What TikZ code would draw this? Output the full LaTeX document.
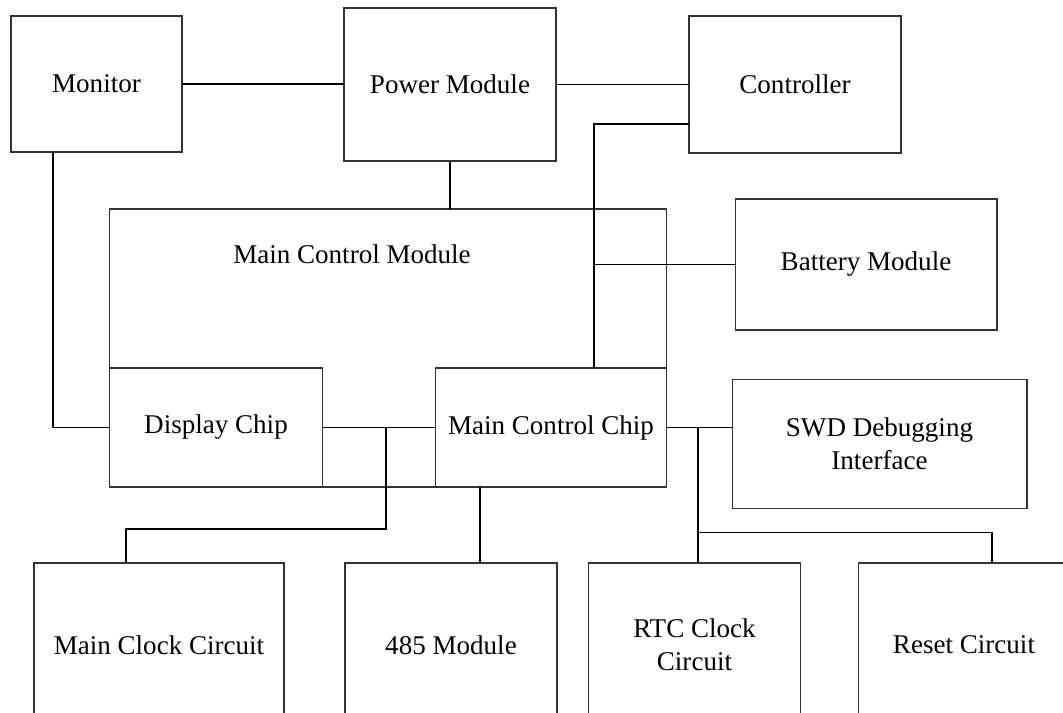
\documentclass[tikz,border=0pt]{standalone}
\usepackage{fontspec}
\setmainfont{Liberation Serif}

\begin{document}
\begin{tikzpicture}[x=0.02cm, y=-0.02cm,
    box/.style={draw=black!80, line width=0.6pt, rectangle, inner sep=0pt, outer sep=0pt,
      align=center, font=\fontsize{15.4}{18.7}\selectfont},
    wire/.style={draw=black, line width=1.1pt},
    lbl/.style={font=\fontsize{15.4}{18.7}\selectfont}]
  \useasboundingbox (0,0) rectangle (1063,713);
  \clip (0,0) rectangle (1063,713);
  % top row
  \node[box, minimum width=3.42cm, minimum height=2.72cm] (monitor) at (96.5,84) {Monitor};
  \node[box, minimum width=4.24cm, minimum height=3.06cm] (power) at (450,84.5) {Power Module};
  \node[box, minimum width=4.24cm, minimum height=2.74cm] (ctrl) at (795,84.5) {Controller};
  % main control module with its two chips
  \node[box, minimum width=11.13cm, minimum height=5.56cm] (mcm) at (388,348) {};
  \node[lbl] (mcmlabel) at (352,254) {Main Control Module};
  \node[box, minimum width=4.25cm, minimum height=2.38cm] (disp) at (216,427.5) {Display Chip};
  \node[box, minimum width=4.62cm, minimum height=2.38cm] (mcc) at (551,427.5) {Main Control Chip};
  % right side
  \node[box, minimum width=5.24cm, minimum height=2.62cm] (batt) at (866,264.5) {Battery Module};
  \node[box, minimum width=5.90cm, minimum height=2.57cm] (swd) at (879.5,444) {SWD Debugging\\Interface};
  % bottom row
  \node[box, minimum width=5.00cm, minimum height=3.28cm] (mclk) at (159,645) {Main Clock Circuit};
  \node[box, minimum width=4.24cm, minimum height=3.28cm] (m485) at (451,645) {485 Module};
  \node[box, minimum width=4.23cm, minimum height=3.28cm] (rtc) at (694.5,645) {RTC Clock\\Circuit};
  \node[box, minimum width=4.22cm, minimum height=3.28cm] (reset) at (964,645) {Reset Circuit};
  % junctions
  \coordinate (cbus) at (594,264.5);
  \coordinate (dj) at (386,427.5);
  \coordinate (dk) at (386,529);
  \coordinate (sj) at (697.6,427.5);
  \coordinate (sk) at (697.6,532.5);
  % connectors
  \draw[wire] (monitor.east) -- (monitor.east -| power.west);
  \draw[wire] (power.east) -- (power.east -| ctrl.west);
  \draw[wire] (power.south) -- (power.south |- mcm.north);
  \draw[wire] ([yshift=-0.79cm]ctrl.west) -| (cbus) -- (cbus |- mcc.north);
  \draw[wire] (cbus) -- (batt.west);
  \draw[wire] ([xshift=-0.87cm]monitor.south) |- (disp.west);
  \draw[wire] (disp.east) -- (mcc.west);
  \draw[wire] (dj) -- (dk) -| ([xshift=-0.66cm]mclk.north);
  \draw[wire] ([xshift=-1.42cm]mcc.south) -- ([xshift=-1.42cm]mcc.south |- m485.north);
  \draw[wire] (mcc.east) -- (mcc.east -| swd.west);
  \draw[wire] (sj) -- (sj |- rtc.north);
  \draw[wire] (sk) -| ([xshift=0.56cm]reset.north);
\end{tikzpicture}
\end{document}
